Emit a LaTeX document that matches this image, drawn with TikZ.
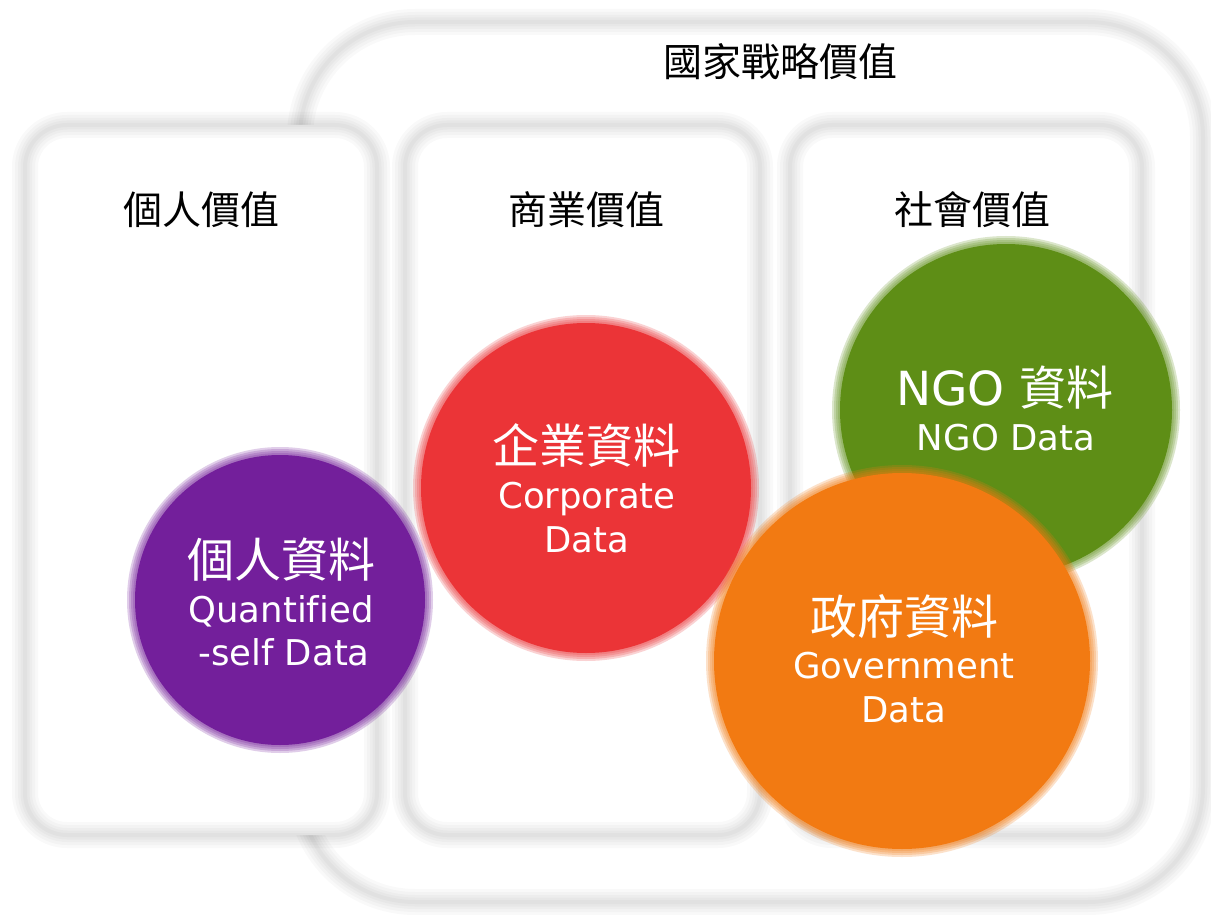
\documentclass[tikz,border=0pt]{standalone}
\usepackage{fontspec}
\setmainfont{DejaVu Sans}[Ligatures=NoCommon]
\newfontfamily\cjkf{Noto Sans CJK TC}
\definecolor{cpurple}{RGB}{115,31,155}
\definecolor{cred}{RGB}{235,52,55}
\definecolor{cgreen}{RGB}{94,142,22}
\definecolor{corange}{RGB}{242,122,18}
\begin{document}
\begin{tikzpicture}[x=1pt,y=-1pt,
  softbox/.style={rectangle, inner sep=0pt, outer sep=0pt,
    preaction={fill=white},
    preaction={draw=black, draw opacity=0.025, line width=26pt},
    preaction={draw=black, draw opacity=0.025, line width=20pt},
    preaction={draw=black, draw opacity=0.025, line width=14pt},
    preaction={draw=black, draw opacity=0.025, line width=9pt},
    draw=black, draw opacity=0.025, line width=4pt},
  blob/.style={circle, inner sep=0pt, outer sep=0pt, minimum size=#1},
  halo/.style={
    preaction={draw=#1, draw opacity=0.22, line width=16pt},
    preaction={draw=#1, draw opacity=0.22, line width=12pt},
    preaction={draw=#1, draw opacity=0.22, line width=8pt},
    preaction={draw=#1, draw opacity=0.22, line width=4pt}, fill=#1},
  title/.style={anchor=base, inner sep=0pt, text=black, font=\cjkf\fontsize{39}{39}\selectfont},
  bigcjk/.style={anchor=base, inner sep=0pt, text=white, font=\cjkf\fontsize{47}{47}\selectfont},
  lat/.style={anchor=base, inner sep=0pt, text=white, font=\fontsize{35.5}{35.5}\selectfont}
]
\useasboundingbox (0,0) rectangle (1211,915);
\fill[white] (0,0) rectangle (1211,915);

% outer frame
\node[softbox, rounded corners=115pt, minimum width=903pt, minimum height=880pt] (outer) at (751.5,462) {};
% three value boxes
\node[softbox, rounded corners=42pt, minimum width=352pt, minimum height=710pt] (b1) at (201,480) {};
\node[softbox, rounded corners=42pt, minimum width=355pt, minimum height=710pt] (b2) at (582.5,480) {};
\node[softbox, rounded corners=42pt, minimum width=352pt, minimum height=710pt] (b3) at (966,480) {};

% titles
\node[title] (tnat) at (780,77) {國家戰略價值};
\node[title] (t1) at (201,225) {個人價值};
\node[title] (t2) at (586,225) {商業價值};
\node[title] (t3) at (972,225) {社會價值};

% circles
\node[blob=290pt, halo=cpurple] (cp) at (280,600) {};
\node[blob=330pt, halo=cred] (cr) at (586,488) {};
\node[blob=332pt, halo=cgreen] (cg) at (1006,410) {};
\node[blob=376pt, halo=corange] (co) at (902,661) {};

% purple text
\node[bigcjk] (p1) at (281,577) {個人資料};
\node[lat] (p2) at (281,622) {Quantified};
\node[lat] (p3) at (284,665) {-self Data};
% red text
\node[bigcjk] (r1) at (586,463) {企業資料};
\node[lat] (r2) at (587,508) {Corporate};
\node[lat] (r3) at (587,552) {Data};
% green text
\node[anchor=base, inner sep=0pt, text=white] (g1) at (1005,405) {\fontsize{47}{47}\selectfont NGO {\cjkf 資料}};
\node[lat] (g2) at (1006,450) {NGO Data};
% orange text
\node[bigcjk] (o1) at (904,634) {政府資料};
\node[lat] (o2) at (904,678) {Government};
\node[lat] (o3) at (904,722) {Data};
\end{tikzpicture}
\end{document}
